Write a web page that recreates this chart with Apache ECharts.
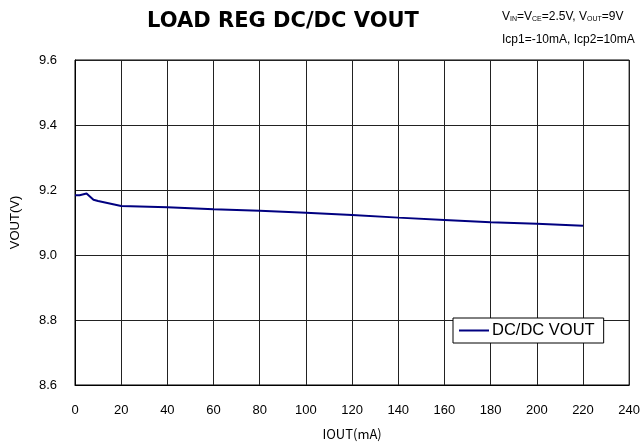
<!DOCTYPE html>
<html>
<head>
<meta charset="utf-8">
<script src="https://cdn.jsdelivr.net/npm/echarts@6/dist/echarts.min.js"></script>
<style>
  html, body { margin: 0; padding: 0; background: #fff; }
  #chart { width: 643px; height: 446px; }
</style>
</head>
<body>
<div id="chart"></div>
<script>
// Output current (mA) and DC/DC output voltage (V)
const ioutMA = [0, 2, 5, 8, 10, 20, 40, 60, 80, 100, 120, 140, 160, 180, 200, 220];
const voutV  = [9.184, 9.184, 9.189, 9.170, 9.166, 9.151, 9.147, 9.141, 9.136, 9.130, 9.123, 9.115, 9.108, 9.101, 9.096, 9.090];
const seriesName = 'DC/DC VOUT';
const xTicks = { min: 0, max: 240, step: 20 };
const yTicks = { min: 8.6, max: 9.6, step: 0.2 };

const chart = echarts.init(document.getElementById('chart'), null, { renderer: 'canvas' });
const gridLine = { show: true, lineStyle: { color: '#222', width: 1 } };
const labelFont = { fontFamily: 'Liberation Sans, Arial, sans-serif', fontSize: 13, color: '#000' };

chart.setOption({
  animation: false,
  backgroundColor: '#fff',
  grid: { left: 75, right: 12, top: 60, bottom: 61, containLabel: false, show: true, borderColor: '#000', borderWidth: 1 },
  xAxis: {
    type: 'value', min: xTicks.min, max: xTicks.max, interval: xTicks.step,
    name: 'IOUT(mA)', nameLocation: 'middle', nameGap: 43,
    nameTextStyle: { fontFamily: 'Noto Sans CJK JP, sans-serif', fontSize: 13, color: '#000' },
    axisLine: { show: true, lineStyle: { color: '#000', width: 1 } },
    axisTick: { show: false },
    axisLabel: Object.assign({ margin: 19 }, labelFont),
    splitLine: gridLine
  },
  yAxis: {
    type: 'value', min: yTicks.min, max: yTicks.max, interval: yTicks.step,
    name: 'VOUT(V)', nameLocation: 'middle', nameGap: 53, nameRotate: 90,
    nameTextStyle: { fontFamily: 'Liberation Sans, Arial, sans-serif', fontSize: 13, color: '#000' },
    axisLine: { show: true, lineStyle: { color: '#000', width: 1 } },
    axisTick: { show: false },
    axisLabel: Object.assign({ margin: 18, formatter: v => v.toFixed(1) }, labelFont),
    splitLine: gridLine
  },
  legend: {
    show: true, left: 453, top: 318, orient: 'vertical',
    backgroundColor: '#fff', borderColor: '#000', borderWidth: 1, borderRadius: 0,
    padding: [4, 9, 4, 6],
    itemWidth: 30, itemHeight: 2, itemGap: 4,
    icon: 'rect',
    textStyle: { fontFamily: 'Liberation Sans, Arial, sans-serif', fontSize: 16.5, color: '#000', padding: [0, 0, 0, -2] },
    data: [{ name: seriesName, icon: 'rect' }]
  },
  graphic: [
    {
      type: 'text', x: 283, y: 11,
      style: { text: 'LOAD REG DC/DC VOUT', align: 'center', font: 'bold 21px "DejaVu Sans", "Liberation Sans", sans-serif', fill: '#000' }
    },
    {
      type: 'text', left: 502, top: 11,
      style: {
        text: '{n|V}{s|IN}{n|=V}{s|CE}{n|=2.5V, V}{s|OUT}{n|=9V}',
        rich: {
          n: { font: '12px "Liberation Sans Narrow", "Liberation Sans", sans-serif', fill: '#000', lineHeight: 14, verticalAlign: 'bottom' },
          s: { font: '7px "Liberation Sans Narrow", "Liberation Sans", sans-serif', fill: '#000', lineHeight: 14, verticalAlign: 'bottom' }
        }
      }
    },
    {
      type: 'text', left: 502, top: 34,
      style: { text: 'Icp1=-10mA, Icp2=10mA', font: '12px "Liberation Sans", Arial, sans-serif', fill: '#000' }
    }
  ],
  series: [{
    name: seriesName, type: 'line',
    data: ioutMA.map((x, i) => [x, voutV[i]]),
    showSymbol: false, symbol: 'none',
    lineStyle: { color: '#000080', width: 2 },
    itemStyle: { color: '#000080' }
  }]
});
</script>
</body>
</html>
